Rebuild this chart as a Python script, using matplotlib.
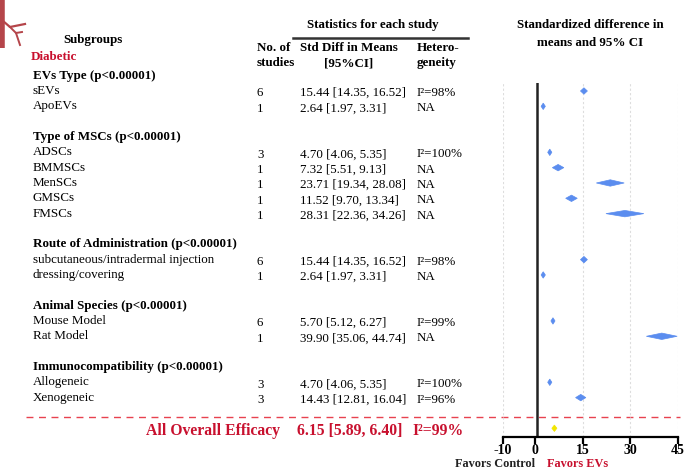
import numpy as np
import matplotlib.pyplot as plt
from matplotlib.patches import Polygon
from matplotlib.lines import Line2D

plt.rcParams['font.family'] = ['Liberation Serif', 'DejaVu Serif']

# subgroup data, one group after another
group_titles = ["EVs Type (p<0.00001)", "Type of MSCs (p<0.00001)",
                "Route of Administration (p<0.00001)", "Animal Species (p<0.00001)",
                "Immunocompatibility (p<0.00001)"]
group_labels = [["sEVs", "ApoEVs"],
                ["ADSCs", "BMMSCs", "MenSCs", "GMSCs", "FMSCs"],
                ["subcutaneous/intradermal injection", "dressing/covering"],
                ["Mouse Model", "Rat Model"],
                ["Allogeneic", "Xenogeneic"]]
n_studies = [6, 1, 3, 1, 1, 1, 1, 6, 1, 6, 1, 3, 3]
smd = [15.44, 2.64, 4.70, 7.32, 23.71, 11.52, 28.31, 15.44, 2.64, 5.70, 39.90, 4.70, 14.43]
ci_low = [14.35, 1.97, 4.06, 5.51, 19.34, 9.70, 22.36, 14.35, 1.97, 5.12, 35.06, 4.06, 12.81]
ci_high = [16.52, 3.31, 5.35, 9.13, 28.08, 13.34, 34.26, 16.52, 3.31, 6.27, 44.74, 5.35, 16.04]
hetero = ["I²=98%", "NA", "I²=100%", "NA", "NA", "NA", "NA",
          "I²=98%", "NA", "I²=99%", "NA", "I²=100%", "I²=96%"]
overall_smd, overall_low, overall_high = 6.15, 5.89, 6.40
overall_het = "I²=99%"
x_ticks = [-10, 0, 15, 30, 45]

RED = "#c8102e"
BLUE = "#5b8def"
YELLOW = "#f2e600"

# row layout (pixel rows of the 685x469 canvas)
Y0, DY = 91, 15.33


def row_y(r):
    return Y0 + DY * r


fig = plt.figure(figsize=(6.85, 4.69), dpi=100)
ax_t = fig.add_axes([0, 0, 1, 1])
ax_t.set_xlim(0, 685)
ax_t.set_ylim(469, 0)
ax_t.axis("off")

ax = fig.add_axes([503 / 685, 1 - 437 / 469, 175 / 685, (437 - 83) / 469])
ax.set_xlim(-10, 45)
ax.set_ylim(437, 83)

fs = 9.4
# headers
ax_t.text(93, 40, "Subgroups", ha="center", va="center", fontsize=fs, fontweight="bold")
ax_t.text(31, 57, "Diabetic", ha="left", va="center", fontsize=fs, fontweight="bold", color=RED)
ax_t.text(373, 25, "Statistics for each study", ha="center", va="center", fontsize=fs, fontweight="bold")
ax_t.plot([293, 468], [38, 38], color="#333333", lw=1.8)
ax_t.text(257, 48, "No. of", ha="left", va="center", fontsize=fs, fontweight="bold")
ax_t.text(257, 63, "studies", ha="left", va="center", fontsize=fs, fontweight="bold")
ax_t.text(349, 48, "Std Diff in Means", ha="center", va="center", fontsize=fs, fontweight="bold")
ax_t.text(349, 63, "[95%CI]", ha="center", va="center", fontsize=fs, fontweight="bold")
ax_t.text(417, 48, "Hetero-", ha="left", va="center", fontsize=fs, fontweight="bold")
ax_t.text(417, 63, "geneity", ha="left", va="center", fontsize=fs, fontweight="bold")
ax_t.text(590, 25, "Standardized difference in", ha="center", va="center", fontsize=fs, fontweight="bold")
ax_t.text(590, 43, "means and 95% CI", ha="center", va="center", fontsize=fs, fontweight="bold")

# small vessel icon in the corner
icon = "#b5454a"
ax_t.add_line(Line2D([2, 2], [0, 48], color=icon, lw=4, solid_capstyle="butt"))
ax_t.add_line(Line2D([3, 10, 25], [21, 27, 24], color=icon, lw=1.6))
ax_t.add_line(Line2D([10, 16, 22], [27, 33, 32], color=icon, lw=1.4))
ax_t.add_line(Line2D([16, 20], [33, 45], color=icon, lw=1.4))


def diamond(axis, x, lo, hi, y, color, h=3.2, min_w=1.3):
    half = max((hi - lo) / 2, min_w / 2)
    left, right = min(lo, x - half), max(hi, x + half)
    axis.add_patch(Polygon([(left, y), (x, y - h), (right, y), (x, y + h)],
                           closed=True, facecolor=color, edgecolor=color, lw=0.5, zorder=3))


r = -1
k = 0
for title, labels in zip(group_titles, group_labels):
    ax_t.text(33, row_y(r), title, ha="left", va="center", fontsize=fs, fontweight="bold")
    for lab in labels:
        r += 1
        y = row_y(r)
        ax_t.text(33, y, lab, ha="left", va="center", fontsize=fs)
        ax_t.text(257, y + 2.5, str(n_studies[k]), ha="left", va="center", fontsize=fs)
        ax_t.text(300, y + 2, f"{smd[k]:.2f} [{ci_low[k]:.2f}, {ci_high[k]:.2f}]",
                  ha="left", va="center", fontsize=fs)
        ax_t.text(417, y + 2, hetero[k], ha="left", va="center", fontsize=fs)
        diamond(ax, smd[k], ci_low[k], ci_high[k], y, BLUE)
        k += 1
    r += 2

# overall row
y_over = row_y(22)
ax_t.plot([26, 680], [417, 417], color="#e8424f", lw=1.0, dashes=(5, 4))
ax_t.text(146, y_over + 3, "All Overall Efficacy", ha="left", va="center",
          fontsize=11.3, fontweight="bold", color=RED)
ax_t.text(297, y_over + 3, f"{overall_smd:.2f} [{overall_low:.2f}, {overall_high:.2f}]",
          ha="left", va="center", fontsize=11.3, fontweight="bold", color=RED)
ax_t.text(412, y_over + 3, overall_het, ha="left", va="center",
          fontsize=11.3, fontweight="bold", color=RED)
diamond(ax, overall_smd, overall_low, overall_high, y_over, YELLOW, h=3.2, min_w=1.6)

# forest axis styling
for x in [-10, 15, 30, 45]:
    ax.axvline(x, color="#dddddd", lw=0.8, ls=(0, (2, 2)), zorder=0)
ax.axvline(0.7, color="#222222", lw=1.8, zorder=2)
for s in ["top", "left", "right"]:
    ax.spines[s].set_visible(False)
ax.spines["bottom"].set_linewidth(1.6)
ax.set_yticks([])
ax.set_xticks(x_ticks)
ax.set_xticklabels([str(t) for t in x_ticks], fontsize=10, fontweight="bold")
ax.tick_params(axis="x", direction="out", length=5, width=1.6, pad=0)
ax.patch.set_alpha(0)

ax_t.text(535, 464, "Favors Control", ha="right", va="center", fontsize=8.8,
          fontweight="bold", color="#222222")
ax_t.text(547, 464, "Favors EVs", ha="left", va="center", fontsize=8.8,
          fontweight="bold", color=RED)

fig.savefig("out.png", dpi=100)
